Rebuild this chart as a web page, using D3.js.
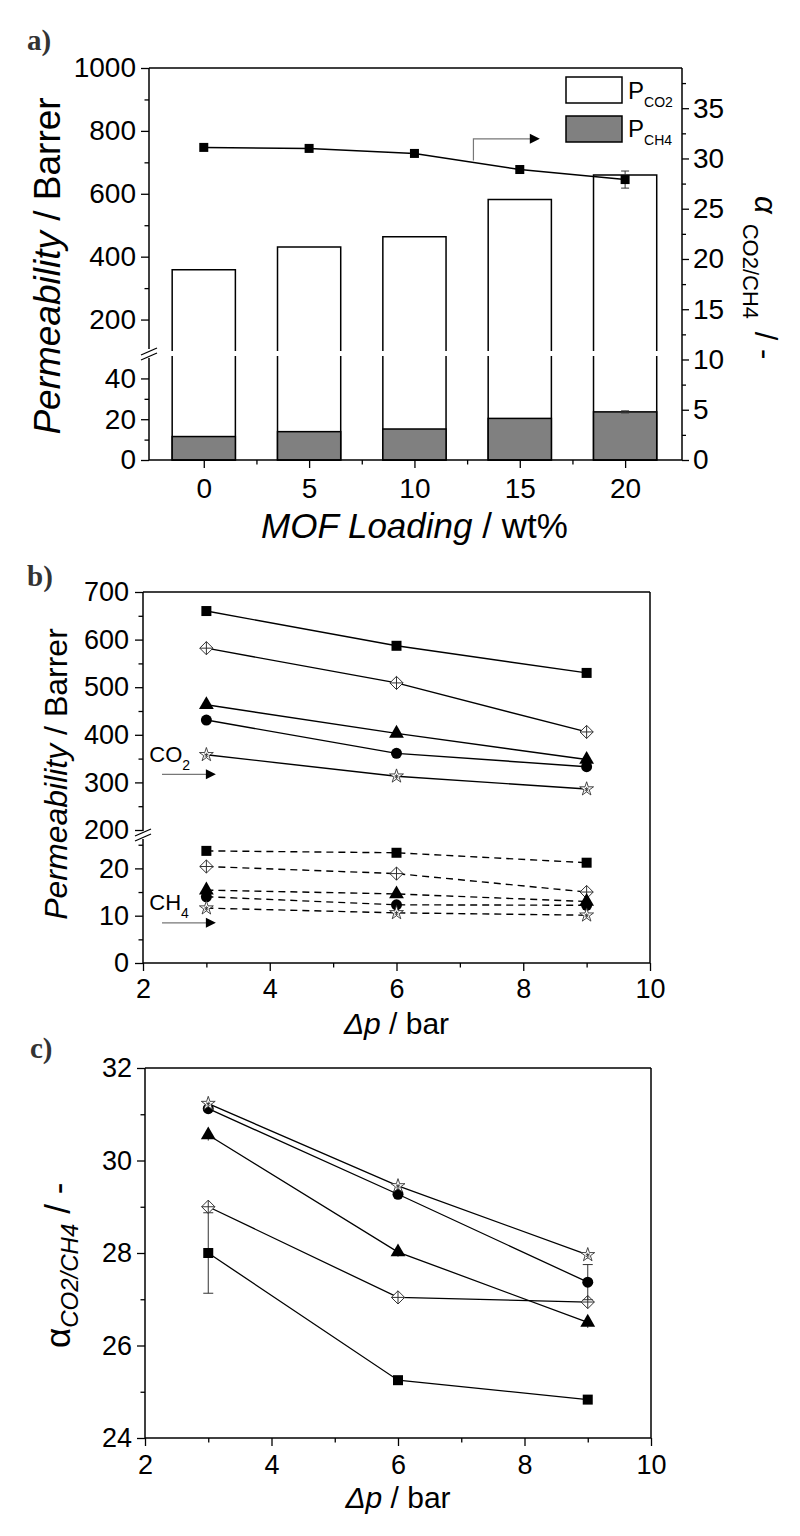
<!DOCTYPE html>
<html>
<head>
<meta charset="utf-8">
<script src="https://cdn.jsdelivr.net/npm/d3@7"></script>
<style>
body { margin: 0; background: #fff; }
svg text { font-family: "Liberation Sans", Arial, sans-serif; fill: #000; }
.tick line { stroke: #000; stroke-width: 1.3; }
.panel-label { font-family: "Liberation Serif", "Times New Roman", serif !important; font-weight: bold; fill: #333 !important; }
</style>
</head>
<body>
<svg id="fig" width="800" height="1536"></svg>
<script>
// ---- panel a: permeability bars vs MOF loading
var loadings = [0, 5, 10, 15, 20];
var permCO2Bar = [358, 431, 463, 582, 660];
var permCH4Bar = [11.5, 13.9, 15.2, 20.4, 23.6];
var permCH4BarErr = [0, 0, 0, 0, 0.5];
var selectA = [31.1, 31.0, 30.5, 28.9, 27.9];
var selectAErr = [0, 0, 0, 0, 0.85];

// ---- panels b and c: vs feed pressure, one series per loading
var deltaP = [3, 6, 9];
var seriesLoad = ["20 wt%", "15 wt%", "10 wt%", "5 wt%", "0 wt%"];
var seriesMarker = ["square", "diamond", "triangle", "circle", "star"];
var co2Perm = [[660, 587, 530], [582, 509, 406], [463, 403, 348], [431, 361, 333], [358, 313, 286]];
var co2Err = [[0, 0, 0], [0, 0, 0], [6, 6, 6], [0, 0, 0], [0, 0, 0]];
var ch4Perm = [[23.7, 23.3, 21.2], [20.4, 18.9, 15.0], [15.4, 14.6, 13.0], [14.0, 12.3, 12.2], [11.6, 10.6, 10.1]];
var ch4Err = [[0, 0, 0], [0, 0, 0], [0.5, 0, 0], [0, 0, 0], [0, 0, 0]];
var alphaSel = [[28.0, 25.25, 24.83], [29.0, 27.04, 26.94], [30.55, 28.02, 26.5], [31.12, 29.27, 27.37], [31.23, 29.45, 27.96]];
var alphaErr = [[0.87, 0, 0], [0, 0, 0], [0.12, 0.1, 0.12], [0, 0, 0.38], [0, 0, 0.08]];

var svg = d3.select("#fig");
var fmt = d3.format("d");

function marker(g, type, cx, cy, s) {
  if (type === "square") {
    g.append("rect").attr("x", cx - s / 2).attr("y", cy - s / 2)
      .attr("width", s).attr("height", s).attr("fill", "#000");
  } else if (type === "circle") {
    g.append("circle").attr("cx", cx).attr("cy", cy).attr("r", s / 2 + 0.5).attr("fill", "#000");
  } else if (type === "triangle") {
    g.append("path").attr("d", d3.symbol(d3.symbolTriangle, s * s * 0.95)())
      .attr("transform", "translate(" + cx + "," + cy + ")").attr("fill", "#000");
  } else if (type === "diamond") {
    var r = s * 0.66;
    g.append("path")
      .attr("d", "M" + cx + "," + (cy - r) + "L" + (cx + r) + "," + cy + "L" + cx + "," + (cy + r) + "L" + (cx - r) + "," + cy + "Z")
      .attr("fill", "#fff").attr("stroke", "#333").attr("stroke-width", 1);
    g.append("path")
      .attr("d", "M" + (cx - r) + "," + cy + "H" + (cx + r) + "M" + cx + "," + (cy - r) + "V" + (cy + r))
      .attr("stroke", "#333").attr("stroke-width", 1);
  } else if (type === "star") {
    g.append("path").attr("d", d3.symbol(d3.symbolStar, s * s * 0.6)())
      .attr("transform", "translate(" + cx + "," + cy + ")")
      .attr("fill", "#fff").attr("stroke", "#333").attr("stroke-width", 0.9);
    g.append("path")
      .attr("d", "M" + (cx - 2) + "," + cy + "H" + (cx + 2) + "M" + cx + "," + (cy - 2) + "V" + (cy + 3) +
        "M" + (cx - 1.8) + "," + (cy - 1.2) + "L" + (cx + 1.8) + "," + (cy + 2.2) + "M" + (cx + 1.8) + "," + (cy - 1.2) + "L" + (cx - 1.8) + "," + (cy + 2.2))
      .attr("stroke", "#333").attr("stroke-width", 0.8);
  }
}

function errBar(g, cx, y1, y2, cap) {
  g.append("path")
    .attr("d", "M" + cx + "," + y1 + "V" + y2 + "M" + (cx - cap) + "," + y1 + "H" + (cx + cap) + "M" + (cx - cap) + "," + y2 + "H" + (cx + cap))
    .attr("stroke", "#333").attr("stroke-width", 1).attr("fill", "none");
}

function axis(g, gen, tx, ty, fs) {
  var a = g.append("g").attr("transform", "translate(" + tx + "," + ty + ")").call(gen);
  a.select(".domain").remove();
  a.selectAll("text").style("font-size", fs + "px").style("font-family", "'Liberation Sans', Arial, sans-serif");
  return a;
}

function line(g, x1, y1, x2, y2, w) {
  g.append("line").attr("x1", x1).attr("y1", y1).attr("x2", x2).attr("y2", y2)
    .attr("stroke", "#000").attr("stroke-width", w || 1.5);
}

function breakMark(g, x, y) {
  line(g, x - 8, y + 3, x + 8, y - 4, 1.3);
  line(g, x - 8, y + 8, x + 8, y + 1, 1.3);
}

function arrow(g, pts, tipX, tipY) {
  g.append("path").attr("d", d3.line()(pts)).attr("fill", "none").attr("stroke", "#777").attr("stroke-width", 1.2);
  g.append("path").attr("d", "M" + tipX + "," + tipY + "l-10,-5v10z").attr("fill", "#000");
}

// ================= panel a =================
(function () {
  var g = svg.append("g");
  var x = d3.scaleLinear().domain([-2.6, 22.7]).range([149, 682]);
  var yUp = d3.scaleLinear().domain([100, 1000]).range([351, 68]);
  var yLo = d3.scaleLinear().domain([0, 51]).range([460, 356]);
  var yR = d3.scaleLinear().domain([0, 39]).range([460, 68]);
  var bw = x(3) - x(0);

  g.append("text").attr("class", "panel-label").attr("x", 27).attr("y", 50).style("font-size", "29px").text("a)");

  loadings.forEach(function (d, i) {
    var x0 = x(d) - bw / 2, x1 = x(d) + bw / 2;
    // CO2 bar, upper segment (open at the break)
    g.append("path")
      .attr("d", "M" + x0 + "," + yUp(100) + "V" + yUp(permCO2Bar[i]) + "H" + x1 + "V" + yUp(100))
      .attr("fill", "#fff").attr("stroke", "#000").attr("stroke-width", 1.5);
    // CO2 bar, lower segment
    g.append("path")
      .attr("d", "M" + x0 + "," + yLo(51) + "V" + yLo(0) + "H" + x1 + "V" + yLo(51))
      .attr("fill", "#fff").attr("stroke", "#000").attr("stroke-width", 1.5);
    // CH4 bar
    g.append("rect").attr("x", x0).attr("y", yLo(permCH4Bar[i]))
      .attr("width", bw).attr("height", yLo(0) - yLo(permCH4Bar[i]))
      .attr("fill", "#808080").attr("stroke", "#000").attr("stroke-width", 1.5);
    if (permCH4BarErr[i] > 0) errBar(g, x(d), yLo(permCH4Bar[i] + permCH4BarErr[i]), yLo(permCH4Bar[i] - permCH4BarErr[i]), 4);
  });

  // selectivity line on the right axis
  g.append("path").datum(selectA)
    .attr("d", d3.line().x(function (d, i) { return x(loadings[i]); }).y(function (d) { return yR(d); }))
    .attr("fill", "none").attr("stroke", "#000").attr("stroke-width", 1.5);
  selectA.forEach(function (d, i) {
    if (selectAErr[i] > 0) errBar(g, x(loadings[i]), yR(d + selectAErr[i]), yR(d - selectAErr[i]), 4);
    marker(g, "square", x(loadings[i]), yR(d), 9);
  });

  // arrow pointing to the right axis
  arrow(g, [[x(12.8), yR(29.8)], [x(12.8), yR(31.95)], [x(15.5), yR(31.95)]], x(15.95), yR(31.95));

  // frame
  line(g, 149, 68, 682, 68);
  line(g, 682, 68, 682, 460);
  line(g, 149, 460, 682, 460);
  line(g, 149, 68, 149, 349);
  line(g, 149, 358, 149, 460);
  breakMark(g, 149, 352);

  axis(g, d3.axisLeft(yUp).tickValues([200, 400, 600, 800, 1000]).tickFormat(fmt).tickSize(8).tickPadding(5), 149, 0, 28);
  axis(g, d3.axisLeft(yUp).tickValues([300, 500, 700, 900]).tickSize(4.5).tickFormat(""), 149, 0, 28);
  axis(g, d3.axisLeft(yLo).tickValues([0, 20, 40]).tickFormat(fmt).tickSize(8).tickPadding(5), 149, 0, 28);
  axis(g, d3.axisLeft(yLo).tickValues([10, 30]).tickSize(4.5).tickFormat(""), 149, 0, 28);
  axis(g, d3.axisRight(yR).tickValues([0, 5, 10, 15, 20, 25, 30, 35]).tickFormat(fmt).tickSize(7).tickPadding(4), 682, 0, 28);
  axis(g, d3.axisRight(yR).tickValues([2.5, 7.5, 12.5, 17.5, 22.5, 27.5, 32.5, 37.5]).tickSize(4).tickFormat(""), 682, 0, 28);
  axis(g, d3.axisBottom(x).tickValues(loadings).tickFormat(fmt).tickSize(8).tickPadding(10), 0, 460, 28);
  axis(g, d3.axisBottom(x).tickValues([2.5, 7.5, 12.5, 17.5]).tickSize(4.5).tickFormat(""), 0, 460, 28);

  // legend
  g.append("rect").attr("x", 566).attr("y", 77).attr("width", 56).attr("height", 26)
    .attr("fill", "#fff").attr("stroke", "#000").attr("stroke-width", 1.5);
  g.append("rect").attr("x", 566).attr("y", 116).attr("width", 56).attr("height", 26)
    .attr("fill", "#808080").attr("stroke", "#000").attr("stroke-width", 1.5);
  var l1 = g.append("text").attr("x", 628).attr("y", 99).style("font-size", "24px");
  l1.append("tspan").text("P");
  l1.append("tspan").attr("dy", 8).style("font-size", "14px").text("CO2");
  var l2 = g.append("text").attr("x", 628).attr("y", 137).style("font-size", "24px");
  l2.append("tspan").text("P");
  l2.append("tspan").attr("dy", 8).style("font-size", "14px").text("CH4");

  // axis titles
  var yt = g.append("text").attr("transform", "translate(60,266) rotate(-90)")
    .attr("text-anchor", "middle").style("font-size", "37px");
  yt.append("tspan").style("font-style", "italic").text("Permeability");
  yt.append("tspan").text(" / Barrer");

  var xt = g.append("text").attr("x", x(10)).attr("y", 538).attr("text-anchor", "middle").style("font-size", "35px");
  xt.append("tspan").style("font-style", "italic").text("MOF Loading");
  xt.append("tspan").text(" / wt%");

  var rt = g.append("text").attr("transform", "translate(755,196) rotate(90)").style("font-size", "31px");
  rt.append("tspan").style("font-style", "italic").text("α");
  rt.append("tspan").attr("dx", 10).attr("dy", 12).style("font-size", "22px").text("CO2/CH4");
  rt.append("tspan").attr("dy", -12).attr("dx", 4).text(" / -");
})();

// ================= panel b =================
(function () {
  var g = svg.append("g");
  var x = d3.scaleLinear().domain([2, 10]).range([143, 650]);
  var yUp = d3.scaleLinear().domain([200, 700]).range([830, 592]);
  var yLo = d3.scaleLinear().domain([0, 26]).range([963, 840]);

  g.append("text").attr("class", "panel-label").attr("x", 27).attr("y", 586).style("font-size", "29px").text("b)");

  var solid = d3.line().x(function (d, i) { return x(deltaP[i]); }).y(function (d) { return yUp(d); });
  var dashed = d3.line().x(function (d, i) { return x(deltaP[i]); }).y(function (d) { return yLo(d); });

  co2Perm.forEach(function (s) {
    g.append("path").datum(s).attr("d", solid).attr("fill", "none").attr("stroke", "#000").attr("stroke-width", 1.4);
  });
  ch4Perm.forEach(function (s) {
    g.append("path").datum(s).attr("d", dashed).attr("fill", "none").attr("stroke", "#000")
      .attr("stroke-width", 1.4).attr("stroke-dasharray", "7,5");
  });
  seriesLoad.forEach(function (name, k) {
    deltaP.forEach(function (p, i) {
      if (co2Err[k][i] > 0) errBar(g, x(p), yUp(co2Perm[k][i] + co2Err[k][i]), yUp(co2Perm[k][i] - co2Err[k][i]), 0);
      if (ch4Err[k][i] > 0) errBar(g, x(p), yLo(ch4Perm[k][i] + ch4Err[k][i]), yLo(ch4Perm[k][i] - ch4Err[k][i]), 0);
      marker(g, seriesMarker[k], x(p), yUp(co2Perm[k][i]), 10);
      marker(g, seriesMarker[k], x(p), yLo(ch4Perm[k][i]), 10);
    });
  });

  // gas annotations
  var t1 = g.append("text").attr("x", x(2.1)).attr("y", yUp(343)).style("font-size", "22px");
  t1.append("tspan").text("CO");
  t1.append("tspan").attr("dy", 8).style("font-size", "14px").text("2");
  arrow(g, [[x(2.3), yUp(317)], [x(3.05), yUp(317)]], x(3.15), yUp(317));
  var t2 = g.append("text").attr("x", x(2.1)).attr("y", yLo(11.2)).style("font-size", "22px");
  t2.append("tspan").text("CH");
  t2.append("tspan").attr("dy", 8).style("font-size", "14px").text("4");
  arrow(g, [[x(2.3), yLo(8.5)], [x(3.05), yLo(8.5)]], x(3.15), yLo(8.5));

  // frame
  line(g, 143, 592, 650, 592);
  line(g, 650, 592, 650, 963);
  line(g, 143, 963, 650, 963);
  line(g, 143, 592, 143, 831);
  line(g, 143, 839, 143, 963);
  breakMark(g, 143, 833);

  axis(g, d3.axisLeft(yUp).tickValues([200, 300, 400, 500, 600, 700]).tickFormat(fmt).tickSize(8).tickPadding(6), 143, 0, 27);
  axis(g, d3.axisLeft(yUp).tickValues([250, 350, 450, 550, 650]).tickSize(4.5).tickFormat(""), 143, 0, 27);
  axis(g, d3.axisLeft(yLo).tickValues([0, 10, 20]).tickFormat(fmt).tickSize(8).tickPadding(6), 143, 0, 27);
  axis(g, d3.axisLeft(yLo).tickValues([5, 15, 25]).tickSize(4.5).tickFormat(""), 143, 0, 27);
  axis(g, d3.axisBottom(x).tickValues([2, 4, 6, 8, 10]).tickFormat(fmt).tickSize(8).tickPadding(8), 0, 963, 27);
  axis(g, d3.axisBottom(x).tickValues([3, 5, 7, 9]).tickSize(4.5).tickFormat(""), 0, 963, 27);

  var yt = g.append("text").attr("transform", "translate(67,774) rotate(-90)")
    .attr("text-anchor", "middle").style("font-size", "32px");
  yt.append("tspan").style("font-style", "italic").text("Permeability");
  yt.append("tspan").text(" / Barrer");

  var xt = g.append("text").attr("x", x(6)).attr("y", 1034).attr("text-anchor", "middle").style("font-size", "30px");
  xt.append("tspan").style("font-style", "italic").text("Δp");
  xt.append("tspan").text(" / bar");
})();

// ================= panel c =================
(function () {
  var g = svg.append("g");
  var x = d3.scaleLinear().domain([2, 10]).range([145, 651]);
  var y = d3.scaleLinear().domain([24, 32]).range([1438, 1068]);

  g.append("text").attr("class", "panel-label").attr("x", 30).attr("y", 1058).style("font-size", "29px").text("c)");

  var ln = d3.line().x(function (d, i) { return x(deltaP[i]); }).y(function (d) { return y(d); });
  alphaSel.forEach(function (s) {
    g.append("path").datum(s).attr("d", ln).attr("fill", "none").attr("stroke", "#000").attr("stroke-width", 1.3);
  });
  seriesLoad.forEach(function (name, k) {
    deltaP.forEach(function (p, i) {
      var e = alphaErr[k][i];
      if (e > 0) errBar(g, x(p), y(alphaSel[k][i] + e), y(alphaSel[k][i] - e), e > 0.3 ? 5 : 0);
      marker(g, seriesMarker[k], x(p), y(alphaSel[k][i]), 10);
    });
  });

  line(g, 145, 1068, 651, 1068);
  line(g, 651, 1068, 651, 1438);
  line(g, 145, 1438, 651, 1438);
  line(g, 145, 1068, 145, 1438);

  axis(g, d3.axisLeft(y).tickValues([24, 26, 28, 30, 32]).tickFormat(fmt).tickSize(8).tickPadding(5), 145, 0, 27);
  axis(g, d3.axisLeft(y).tickValues([25, 27, 29, 31]).tickSize(4.5).tickFormat(""), 145, 0, 27);
  axis(g, d3.axisBottom(x).tickValues([2, 4, 6, 8, 10]).tickFormat(fmt).tickSize(8).tickPadding(9), 0, 1438, 27);
  axis(g, d3.axisBottom(x).tickValues([3, 5, 7, 9]).tickSize(4.5).tickFormat(""), 0, 1438, 27);

  var yt = g.append("text").attr("transform", "translate(70,1348) rotate(-90)").style("font-size", "35px");
  yt.append("tspan").text("α");
  yt.append("tspan").attr("dy", 8).style("font-size", "24px").style("font-style", "italic").text("CO2/CH4");
  yt.append("tspan").attr("dy", -8).attr("dx", 10).text("/ -");

  var xt = g.append("text").attr("x", x(6)).attr("y", 1508).attr("text-anchor", "middle").style("font-size", "30px");
  xt.append("tspan").style("font-style", "italic").text("Δp");
  xt.append("tspan").text(" / bar");
})();
</script>
</body>
</html>
